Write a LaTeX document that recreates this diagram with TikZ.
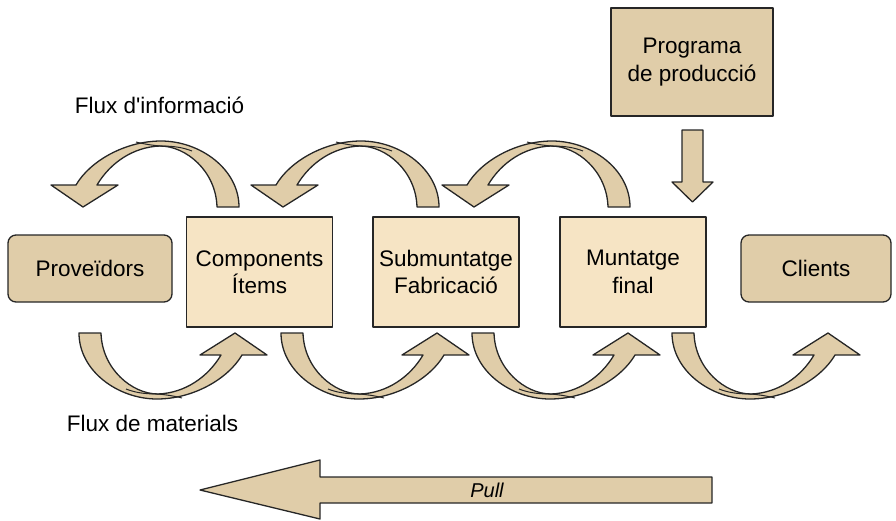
\documentclass[tikz,border=0pt]{standalone}
\usepackage{fontspec}
\setmainfont{Liberation Sans}[Ligatures=TeXOff]
\definecolor{tanfill}{RGB}{224,205,169}
\definecolor{lightfill}{RGB}{246,228,196}
\definecolor{inkline}{RGB}{38,38,38}
\tikzset{
  outline/.style={draw=inkline, line width=1.3pt, line join=round},
  blockshape/.style={outline, fill=tanfill},
  stagebox/.style={outline, fill=lightfill, minimum width=146pt, minimum height=110pt,
    align=center, inner sep=0pt, font=\fontsize{22.5}{27.5}\selectfont},
  endbox/.style={outline, fill=tanfill, rounded corners=8pt, minimum height=67pt,
    inner sep=0pt, font=\fontsize{22.5}{27.5}\selectfont},
  flowlabel/.style={anchor=base, inner sep=0pt, font=\fontsize{22.5}{27}\selectfont},
  % curved block arrow: tail centred on the origin, bending downwards, head on the right
  pics/bentarrow/.style={code={
    \filldraw[blockshape]
      (-11,0) .. controls (-11,38) and (28,66) .. (67,66)
      .. controls (103,66) and (138,46) .. (152,22)
      -- (177,22) -- (145,0) -- (110,22) -- (131,22)
      .. controls (118,44) and (95,60) .. (68,61)
      .. controls (42,61) and (12,36) .. (11,0) -- cycle;
    \draw[outline, line width=1pt]
      (68,61) .. controls (52,61) and (44,59) .. (36,56);
    \draw[outline, line width=1pt]
      (68,61) .. controls (78,62) and (84,63) .. (92,65);
  }}
}
\begin{document}
\begin{tikzpicture}[x=1pt, y=-1pt]
  \useasboundingbox (0,0) rectangle (896,520);

  % stages of the chain
  \node[endbox, minimum width=164pt] (prov) at (90,268.5) {Proveïdors};
  \node[stagebox] (comp) at (259.5,272) {Components\\Ítems};
  \node[stagebox] (sub)  at (446,272) {Submuntatge\\Fabricació};
  \node[stagebox] (munt) at (633,272) {Muntatge\\final};
  \node[endbox, minimum width=150pt] (cli) at (816,268.5) {Clients};
  \node[stagebox, fill=tanfill, minimum width=162pt, minimum height=108pt]
    (prog) at (692,62) {Programa\\de producció};

  % production programme feeding final assembly
  \filldraw[blockshape]
    (682,130) -- (703,130) -- (703,182) -- (713,182) -- (692.5,202)
    -- (672,182) -- (682,182) -- cycle;

  % information flow (upstream, above the stages)
  \pic[rotate=180] at (228,207) {bentarrow};
  \pic[rotate=180] at (428,207) {bentarrow};
  \pic[rotate=180] at (619,207) {bentarrow};

  % material flow (downstream, below the stages)
  \pic at (90,333) {bentarrow};
  \pic at (292,333) {bentarrow};
  \pic at (483,333) {bentarrow};
  \pic at (683,333) {bentarrow};

  \node[flowlabel] (finfo) at (159.5,113) {Flux d'informació};
  \node[flowlabel] (fmat) at (152.5,431) {Flux de materials};

  % pull direction
  \filldraw[blockshape]
    (712,477) -- (320,477) -- (320,460) -- (200,490) -- (320,519)
    -- (320,503) -- (712,503) -- cycle;
  \node[inner sep=0pt, font=\fontsize{20}{24}\selectfont\itshape] (pull) at (487,490) {Pull};
\end{tikzpicture}
\end{document}
